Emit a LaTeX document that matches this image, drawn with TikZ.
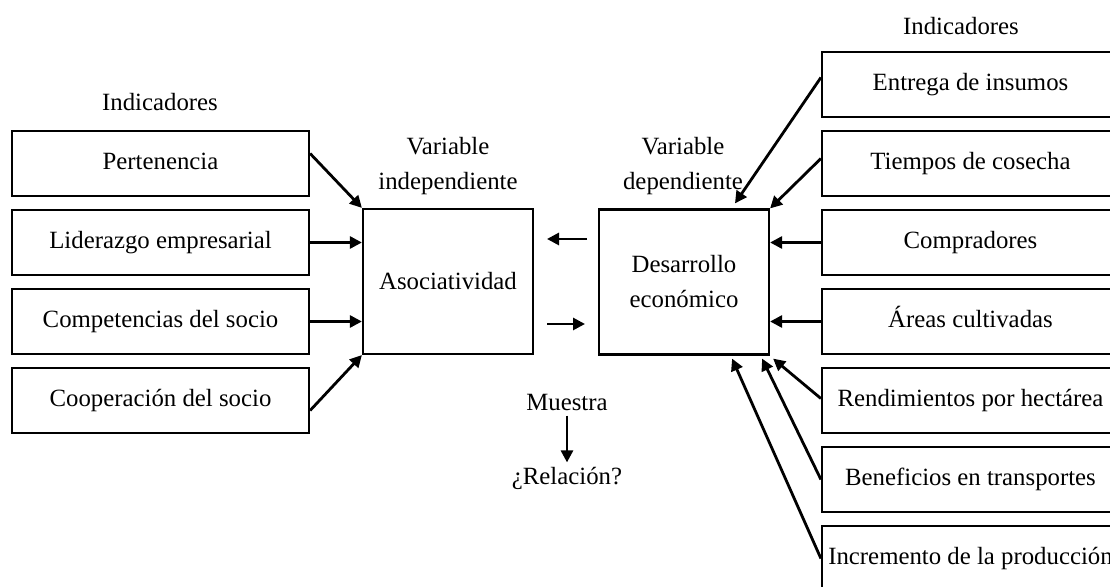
\documentclass[tikz,border=0pt]{standalone}
\usepackage{fontspec}
\setmainfont{Liberation Serif}
\usetikzlibrary{arrows.meta,calc}

\tikzset{
  indbox/.style={draw, line width=1.1pt, minimum width=148.5pt, minimum height=32.5pt, inner sep=0pt, text height=8.6pt, text depth=2.4pt},
  varbox/.style={draw, line width=1.1pt, minimum width=85pt, minimum height=72.5pt, inner sep=0pt, align=center},
  lbl/.style={align=center, inner sep=2pt},
  flecha/.style={-{Triangle[length=6pt,width=6pt]}, line width=1.4pt}
}

\begin{document}
\begin{tikzpicture}[x=0.5pt, y=-0.5pt, font=\fontsize{12.4}{17.5}\selectfont]
        \useasboundingbox (0,0) rectangle (1110,587);

        % Indicadores de la variable independiente
        \node[lbl] (indL) at (160,102) {Indicadores};
        \node[indbox] (pert) at (160.5,163.5) {Pertenencia};
        \node[indbox] (lid)  at (160.5,242.5) {Liderazgo empresarial};
        \node[indbox] (comp) at (160.5,321.5) {Competencias del socio};
        \node[indbox] (coop) at (160.5,400.5) {Cooperación del socio};

        % Variables
        \node[lbl] (vind) at (448,166) {Variable\\independiente};
        \node[varbox] (asoc) at (448,281.5) {Asociatividad};
        \node[lbl] (vdep) at (683,166) {Variable\\dependiente};
        \node[varbox] (des) at (684,282) {Desarrollo\\económico};

        % Indicadores de la variable dependiente
        \node[lbl] (indR) at (961,26) {Indicadores};
        \node[indbox] (ent)  at (970.5,84.5)  {Entrega de insumos};
        \node[indbox] (tiem) at (970.5,163.5) {Tiempos de cosecha};
        \node[indbox] (compr) at (970.5,242.5) {Compradores};
        \node[indbox] (area) at (970.5,321.5) {Áreas cultivadas};
        \node[indbox] (rend) at (970.5,400.5) {Rendimientos por hectárea};
        \node[indbox] (bene) at (970.5,479.5) {Beneficios en transportes};
        \node[indbox] (incr) at (970.5,558.5) {Incremento de la producción};

        % Muestra
        \node[lbl] (mues) at (567,403) {Muestra};
        \node[lbl] (rel) at (567,478) {¿Relación?};

        % Puntos libres de las flechas centrales
        \coordinate (c1) at (587,239);
        \coordinate (c2) at (547,239);
        \coordinate (c3) at (547,324);
        \coordinate (c4) at (585,324);

        % Flechas hacia Asociatividad
        \draw[flecha] ($(pert.east)+(0,-10)$) -- (asoc.north west);
        \draw[flecha] (lid.east) -- (asoc.west |- lid.east);
        \draw[flecha] (comp.east) -- (asoc.west |- comp.east);
        \draw[flecha] ($(coop.east)+(0,10)$) -- (asoc.south west);

        % Flechas entre variables
        \draw[flecha] (c1) -- (c2);
        \draw[flecha] (c3) -- (c4);
        \draw[flecha] (mues) -- (rel);

        % Flechas hacia Desarrollo económico
        \draw[flecha] ($(ent.west)+(0,-7)$) -- ($(des.north)+(51,-5)$);
        \draw[flecha] ($(tiem.west)+(0,-5)$) -- (des.north east);
        \draw[flecha] (compr.west) -- (des.east |- compr.west);
        \draw[flecha] (area.west) -- (des.east |- area.west);
        \draw[flecha] ($(rend.west)+(0,-2)$) -- ($(des.south east)+(3,3)$);
        \draw[flecha] (bene.west) -- ($(des.south east)+(-8,3)$);
        \draw[flecha] (incr.west) -- ($(des.south east)+(-38,3)$);

    \end{tikzpicture}
\end{document}
